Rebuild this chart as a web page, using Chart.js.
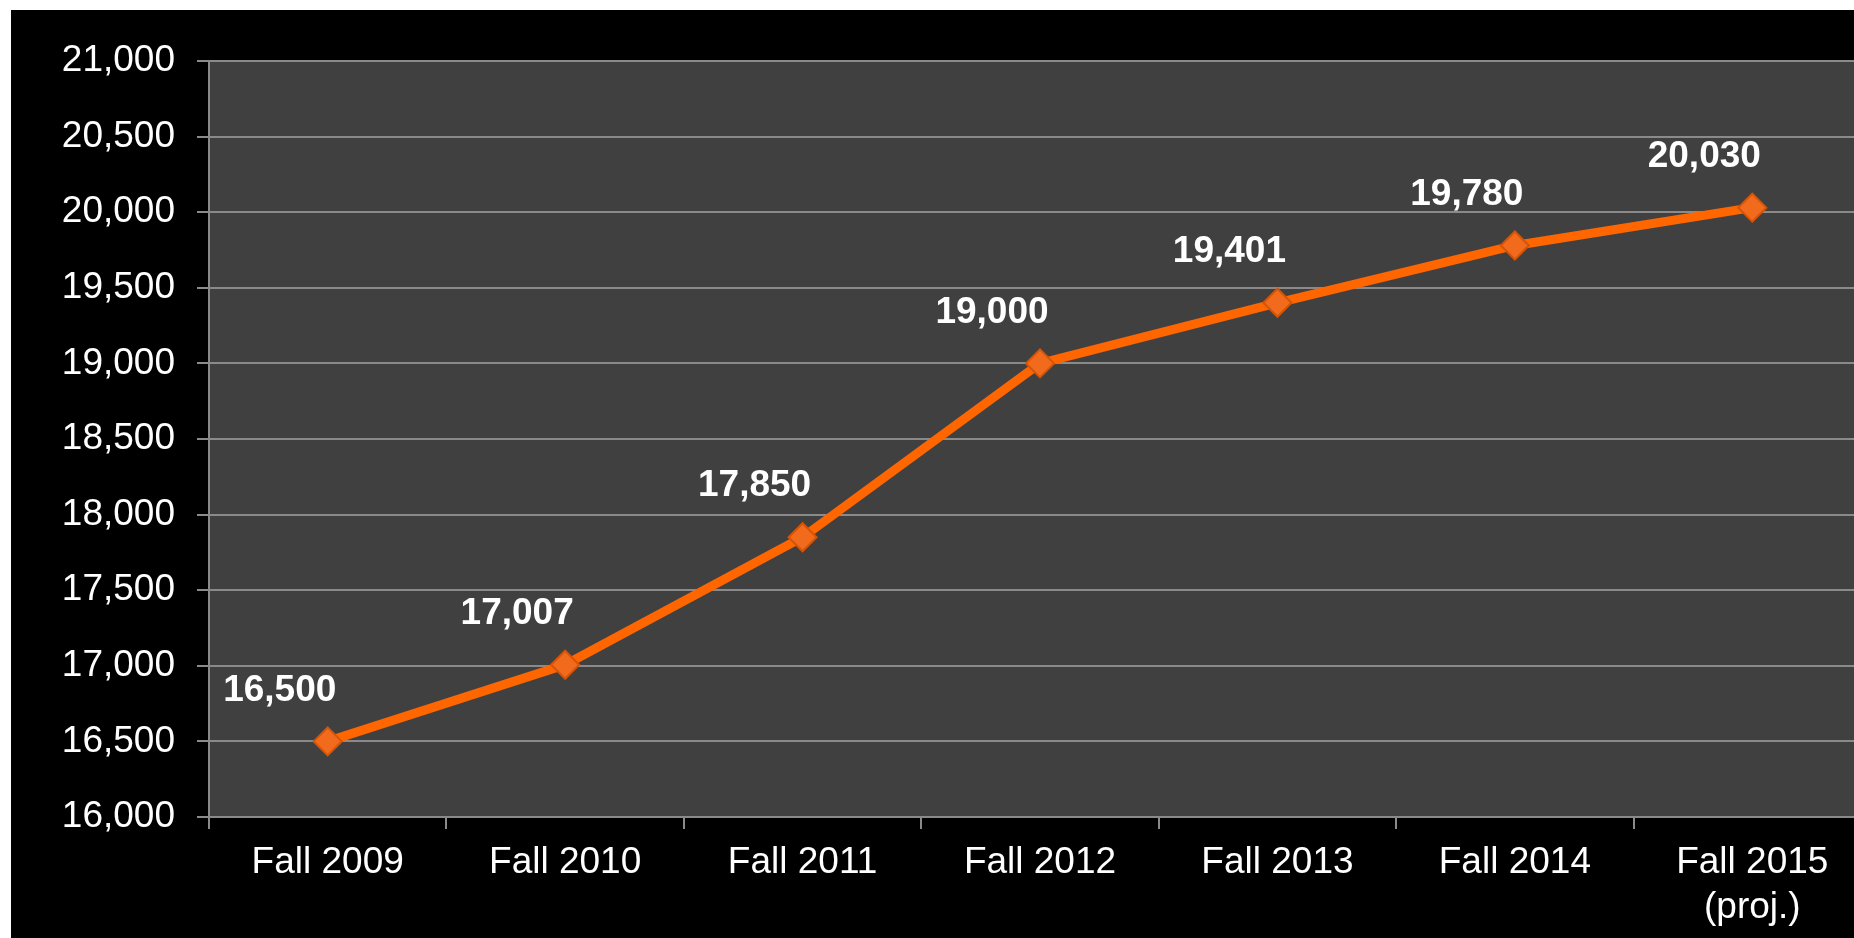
<!DOCTYPE html>
<html>
<head>
<meta charset="utf-8">
<script src="https://cdn.jsdelivr.net/npm/chart.js@4"></script>
<style>
  html, body { margin: 0; padding: 0; background: #fff; overflow: hidden; width: 1854px; height: 938px; }
  #myChart { position: absolute; left: 11px; top: 10px; background: #000; }
</style>
</head>
<body>
<canvas id="myChart" width="1876" height="928"></canvas>
<script>
var categories = ["Fall 2009", "Fall 2010", "Fall 2011", "Fall 2012", "Fall 2013", "Fall 2014", ["Fall 2015", "(proj.)"]];
var enrollment = [16500, 17007, 17850, 19000, 19401, 19780, 20030];
var yMin = 16000, yMax = 21000, yStep = 500;

var fontFamily = "'Liberation Sans', Arial, sans-serif";

// dark plot background
var plotBg = {
    id: 'plotBg',
    beforeDraw: function (chart) {
        var a = chart.chartArea, c = chart.ctx;
        c.save();
        c.fillStyle = '#404040';
        c.fillRect(a.left, a.top, a.right - a.left, a.bottom - a.top);
        c.restore();
    }
};

// value labels above-left of each point
var valueLabels = {
    id: 'valueLabels',
    afterDatasetsDraw: function (chart) {
        var c = chart.ctx;
        var meta = chart.getDatasetMeta(0);
        c.save();
        c.font = "bold 37px " + fontFamily;
        c.fillStyle = '#ffffff';
        c.textAlign = 'center';
        c.textBaseline = 'middle';
        meta.data.forEach(function (pt, i) {
            c.fillText(enrollment[i].toLocaleString('en-US'), pt.x - 48, pt.y - 51);
        });
        c.restore();
    }
};

var ctx = document.getElementById('myChart');
var myChart = new Chart(ctx, {
    type: 'line',
    data: {
        labels: categories,
        datasets: [{
            label: "Enrollment",
            data: enrollment,
            borderColor: '#ff6600',
            borderWidth: 9,
            pointStyle: 'rectRot',
            pointRadius: 14,
            pointBackgroundColor: '#f26a1b',
            pointBorderColor: '#d45408',
            pointBorderWidth: 2,
            tension: 0
        }]
    },
    options: {
        responsive: false,
        devicePixelRatio: 1,
        animation: false,
        layout: { padding: { top: 51, right: 0, left: 0, bottom: 0 } },
        plugins: {
            legend: { display: false },
            tooltip: { enabled: false }
        },
        scales: {
            x: {
                offset: true,
                afterFit: function (s) { s.height = 121; },
                grid: {
                    offset: true,
                    drawOnChartArea: false,
                    drawTicks: true,
                    tickLength: 12,
                    color: '#8a8a8a',
                    lineWidth: 2
                },
                border: { color: '#8a8a8a', width: 2 },
                ticks: {
                    color: '#ffffff',
                    font: { family: fontFamily, size: 37, lineHeight: 1.2 },
                    padding: 12,
                    maxRotation: 0,
                    autoSkip: false
                }
            },
            y: {
                min: yMin,
                max: yMax,
                afterFit: function (s) { s.width = 198; },
                grid: {
                    color: '#8a8a8a',
                    lineWidth: 2,
                    tickLength: 12
                },
                border: { color: '#8a8a8a', width: 2 },
                ticks: {
                    stepSize: yStep,
                    color: '#ffffff',
                    font: { family: fontFamily, size: 37 },
                    padding: 22,
                    callback: function (v) { return v.toLocaleString('en-US'); }
                }
            }
        }
    },
    plugins: [plotBg, valueLabels]
});
</script>
</body>
</html>
